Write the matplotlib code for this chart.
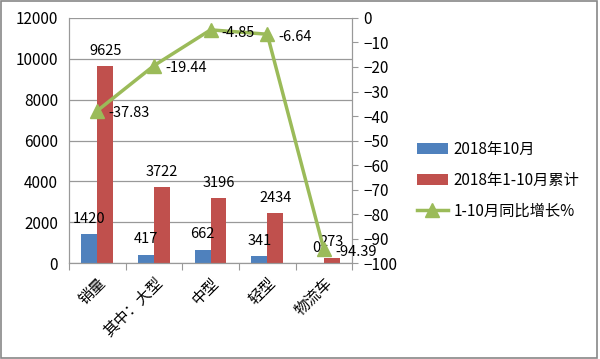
import matplotlib.pyplot as plt
import numpy as np

plt.rcParams['font.family'] = ['Noto Sans CJK SC', 'DejaVu Sans']

categories = ['销量', '其中：大型', '中型', '轻型', '物流车']
oct_2018 = [1420, 417, 662, 341, 0]
cum_2018 = [9625, 3722, 3196, 2434, 273]
yoy_growth = [-37.83, -19.44, -4.85, -6.64, -94.39]

blue = '#4F81BD'
red = '#C0504D'
green = '#9BBB59'

fig = plt.figure(figsize=(6, 3.59), dpi=100)
fig.patches.append(plt.Rectangle((0.002, 0.003), 0.993, 0.994, transform=fig.transFigure,
                                 fill=False, edgecolor='#888888', linewidth=1.2))
ax = fig.add_axes([0.115, 0.267, 0.472, 0.683])
ax2 = ax.twinx()

x = np.arange(len(categories))
w = 0.28
b1 = ax.bar(x - w / 2, oct_2018, w, color=blue, label='2018年10月', zorder=2)
b2 = ax.bar(x + w / 2, cum_2018, w, color=red, label='2018年1-10月累计', zorder=2)

for xi, v in zip(x, oct_2018):
    ax.annotate(str(v), (xi - w / 2, v), xytext=(0, 6), textcoords='offset points',
                ha='center', va='bottom', fontsize=10.5)
for xi, v in zip(x, cum_2018):
    ax.annotate(str(v), (xi + w / 2, v), xytext=(0, 6), textcoords='offset points',
                ha='center', va='bottom', fontsize=10.5)

ln, = ax2.plot(x, yoy_growth, color=green, linewidth=2.5, marker='^', markersize=10,
               label='1-10月同比增长%', zorder=3)
for xi, v in zip(x, yoy_growth):
    ax2.annotate(f'{v:.2f}', (xi, v), xytext=(8, -2), textcoords='offset points',
                 ha='left', va='center', fontsize=10.5)

ax.set_xlim(-0.5, 4.5)
ax.set_ylim(0, 12000)
ax.set_yticks(range(0, 12001, 2000))
ax2.set_ylim(-100, 0)
ax2.set_yticks(range(-100, 1, 10))

ax.yaxis.grid(True, color='#999999', linewidth=0.9, zorder=0)
ax.set_axisbelow(True)
ax.set_xticks(np.arange(-0.5, 5, 1))
ax.set_xticklabels([])
ax.set_xticks(x, minor=True)
ax.set_xticklabels(categories, minor=True, rotation=45, ha='right', va='top',
                   rotation_mode='anchor', fontsize=11)
ax.tick_params(axis='x', which='minor', length=0, pad=8)
ax.tick_params(axis='x', which='major', length=5, color='#999999')
ax.tick_params(axis='y', length=0, labelsize=11, pad=8)
ax2.tick_params(axis='y', length=4, color='#999999', labelsize=11, pad=4)

for a in (ax, ax2):
    a.spines['top'].set_visible(False)
    a.spines['left'].set_color('#999999')
    a.spines['right'].set_color('#999999')
    a.spines['bottom'].set_color('#999999')

fig.legend(handles=[b1, b2, ln], loc='center left', bbox_to_anchor=(0.685, 0.498),
           frameon=False, fontsize=11, handlelength=2.0, handletextpad=0.4,
           borderaxespad=0, labelspacing=0.9)

fig.savefig('out.png', dpi=100)
